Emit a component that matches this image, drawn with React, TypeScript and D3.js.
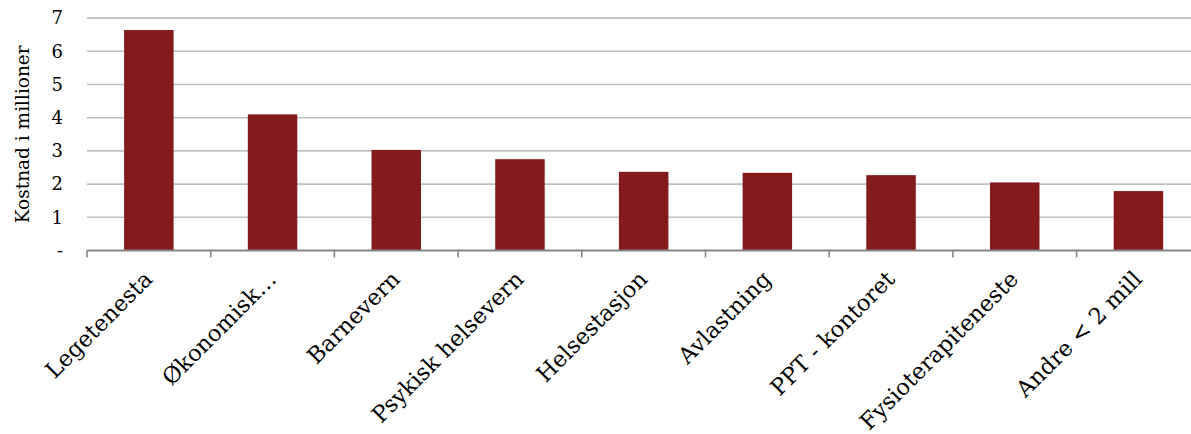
import React from "react";
import * as d3 from "d3";

// Kostnad per teneste, i millionar kroner
const categories = [
  "Legetenesta",
  "Økonomisk…",
  "Barnevern",
  "Psykisk helsevern",
  "Helsestasjon",
  "Avlastning",
  "PPT - kontoret",
  "Fysioterapiteneste",
  "Andre < 2 mill",
];
const values = [6.64, 4.1, 3.03, 2.75, 2.37, 2.34, 2.27, 2.05, 1.79];
const yTicks = [0, 1, 2, 3, 4, 5, 6, 7];
const yTitle = "Kostnad i millioner";

const W = 1191;
const H = 434;
const FONT = "'DejaVu Serif', Georgia, serif";
const BAR = "#831a1b";

export default function App() {
  const left = 87;
  const step = 123.7;
  const x = d3
    .scaleBand<string>()
    .domain(categories)
    .range([left, left + step * categories.length])
    .padding(0);
  const y = d3.scaleLinear().domain([0, 7]).range([250.5, 18.1]);
  const bw = x.bandwidth() * 0.4;
  const y0 = y(0);
  const boundaries = [...categories.map((c) => x(c) as number), x.range()[1]];

  return (
    <svg
      width={W}
      height={H}
      style={{ position: "absolute", left: 0, top: 0, background: "#fff" }}
      fontFamily={FONT}
    >
      {/* horisontale rutelinjer */}
      {yTicks
        .filter((t) => t > 0)
        .map((t) => (
          <line
            key={"g" + t}
            x1={left}
            x2={x.range()[1]}
            y1={y(t)}
            y2={y(t)}
            stroke="#c0c0c0"
            strokeWidth={1.6}
          />
        ))}

      {/* søyler */}
      {categories.map((c, i) => {
        const cx = (x(c) as number) + x.bandwidth() / 2;
        return (
          <rect
            key={c}
            x={cx - bw / 2}
            y={y(values[i])}
            width={bw}
            height={y0 - y(values[i])}
            fill={BAR}
          />
        );
      })}

      {/* x-akse */}
      <line
        x1={left}
        x2={x.range()[1]}
        y1={y0}
        y2={y0}
        stroke="#868686"
        strokeWidth={1.8}
      />
      {boundaries.map((b, i) => (
        <line
          key={"t" + i}
          x1={b}
          x2={b}
          y1={y0}
          y2={y0 + 7}
          stroke="#868686"
          strokeWidth={1.6}
        />
      ))}

      {/* y-aksetekstar */}
      {yTicks.map((t) => (
        <text
          key={"y" + t}
          x={63}
          y={y(t)}
          dy="0.35em"
          textAnchor="end"
          fontSize={18}
          fill="#000"
        >
          {t === 0 ? "-" : String(t)}
        </text>
      ))}

      {/* y-aksetittel */}
      <text
        transform={`translate(29, ${(y(0) + y(7)) / 2}) rotate(-90)`}
        textAnchor="middle"
        fontSize={18.5}
        fill="#000"
      >
        {yTitle}
      </text>

      {/* kategorietikettar */}
      {categories.map((c) => {
        const cx = (x(c) as number) + x.bandwidth() / 2;
        return (
          <text
            key={"l" + c}
            transform={`translate(${cx + 5}, ${y0 + 30}) rotate(-45)`}
            textAnchor="end"
            fontSize={22.5}
            fill="#000"
          >
            {c}
          </text>
        );
      })}
    </svg>
  );
}
